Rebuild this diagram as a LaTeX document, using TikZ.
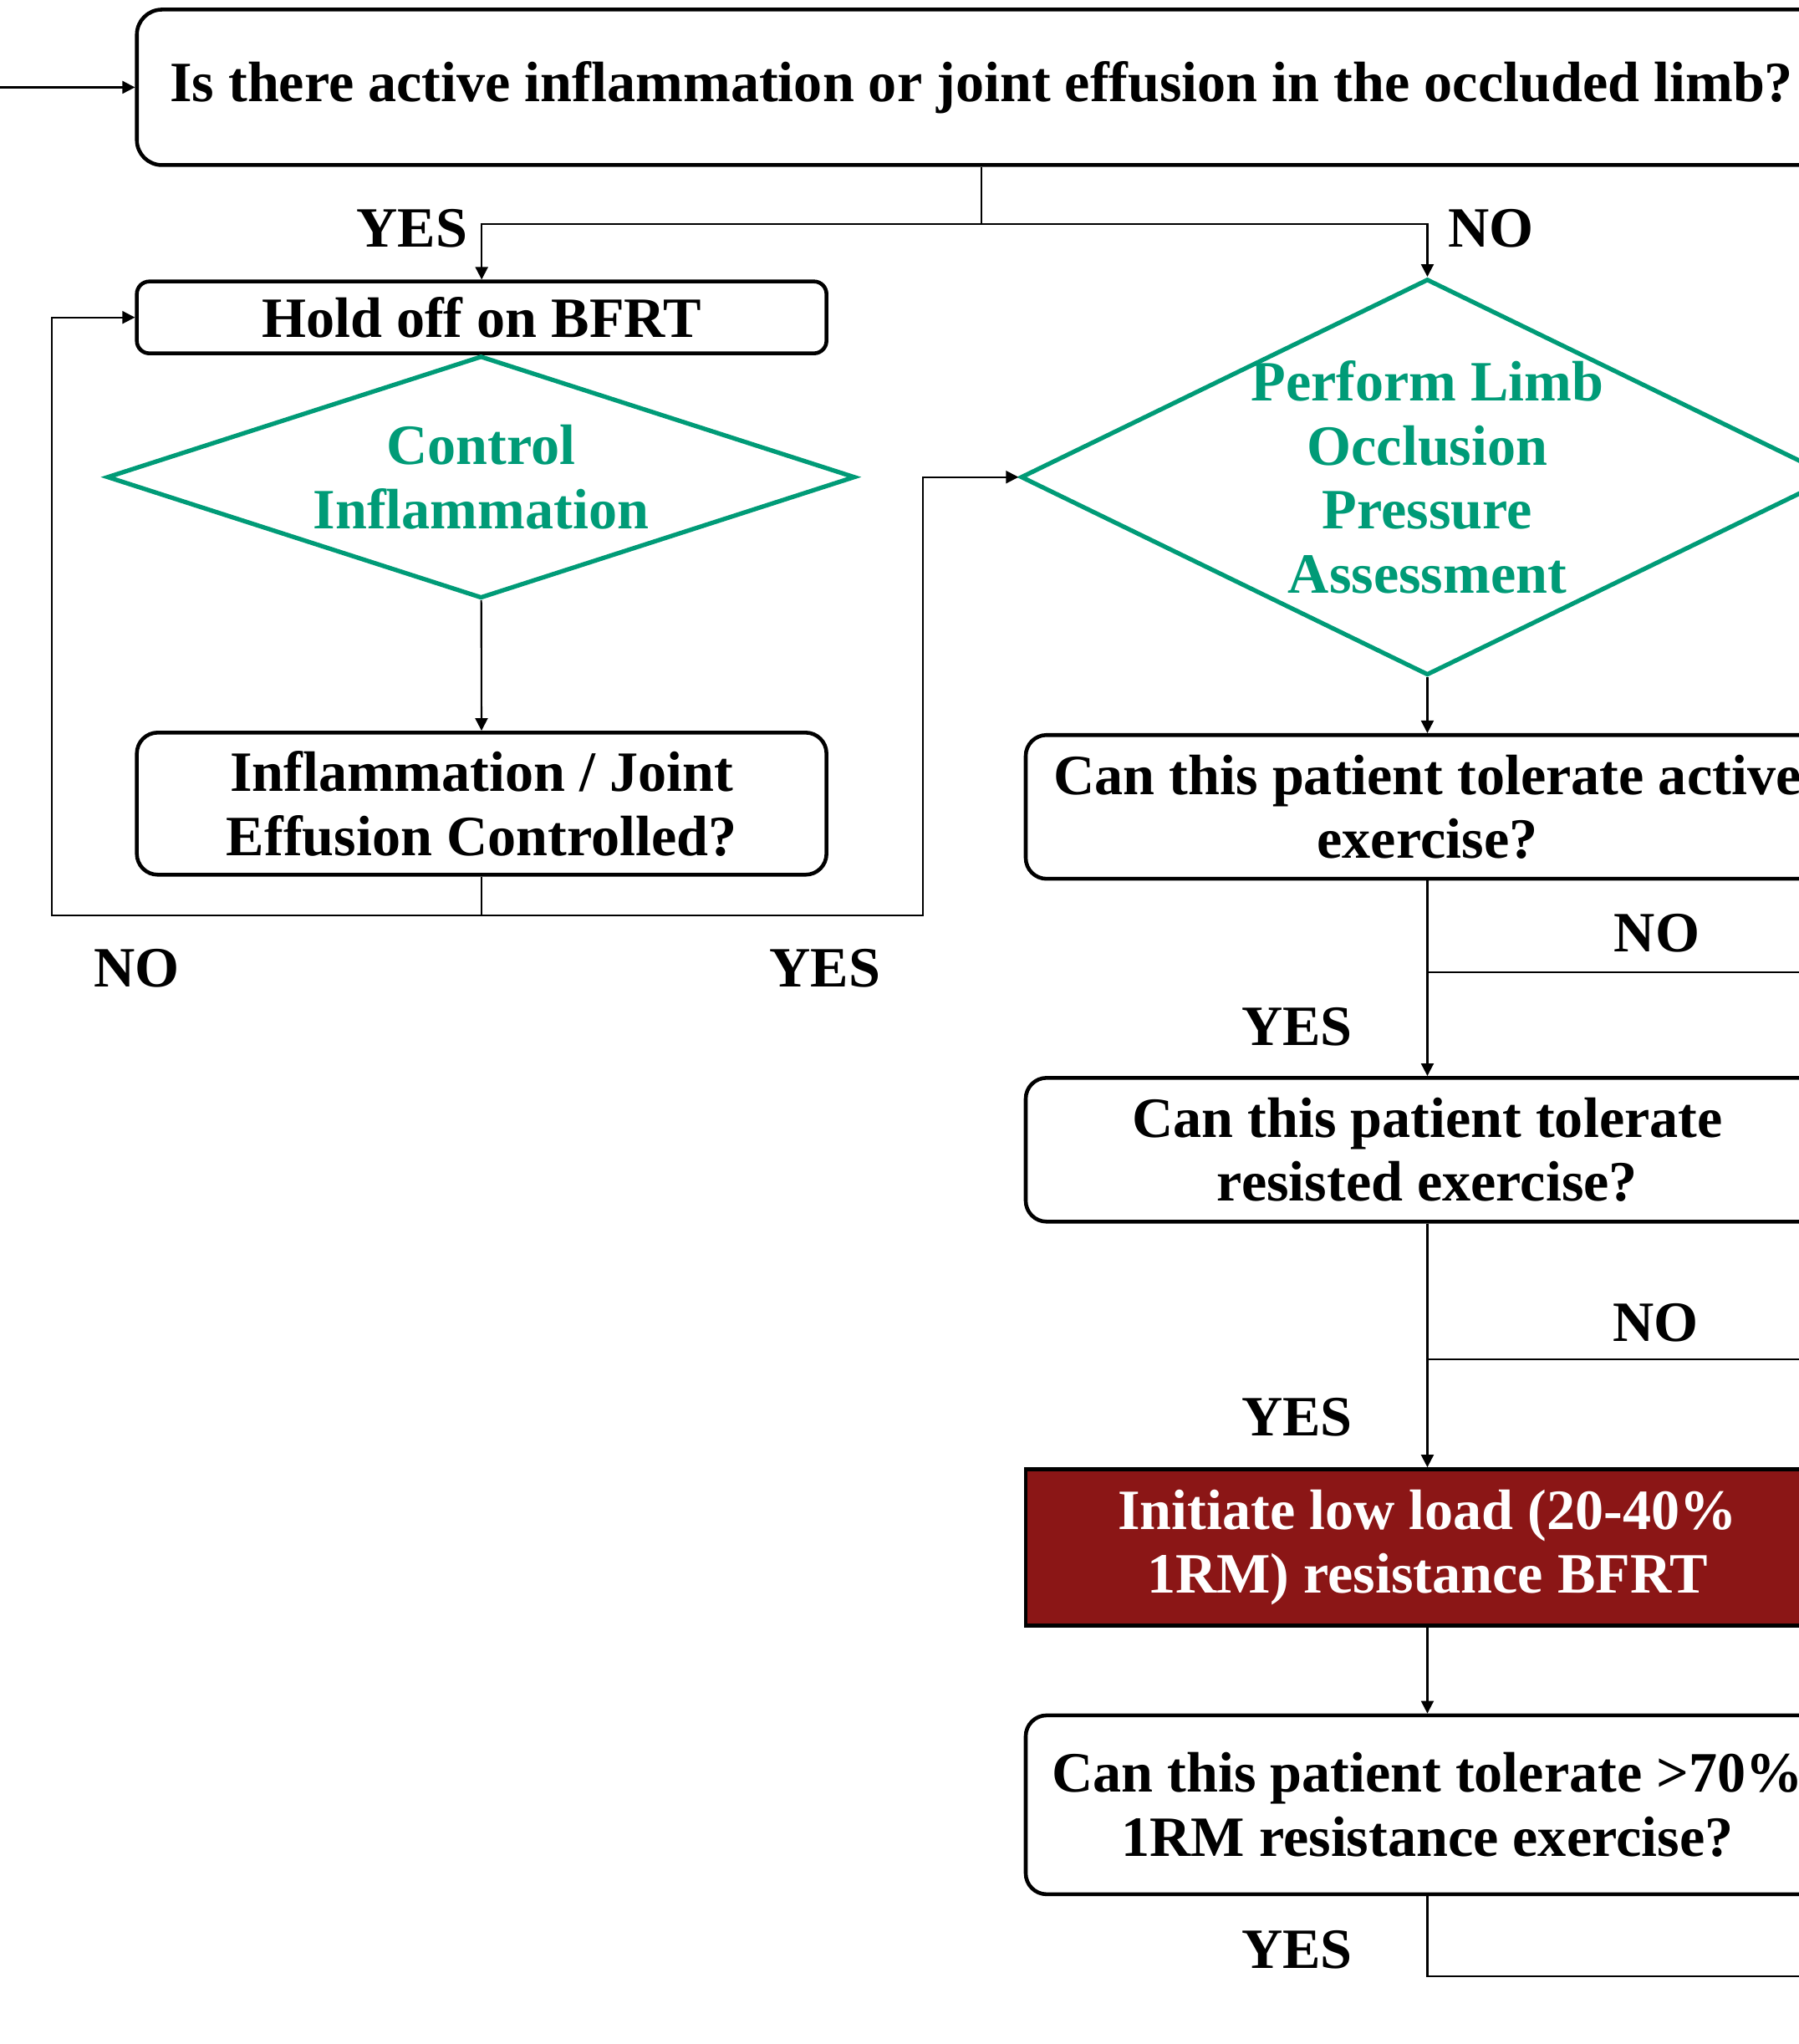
\documentclass[tikz,border=0pt]{standalone}
\usepackage{fontspec}
\setmainfont{Liberation Serif}
\usetikzlibrary{shapes.geometric,arrows.meta}
\definecolor{lopgreen}{RGB}{0,155,119}
\definecolor{bfrtred}{RGB}{139,22,22}

\begin{document}
\begin{tikzpicture}
  [x=0.15594mm,y=-0.15594mm,
   every node/.style={font=\bfseries\fontsize{19.4}{21.8}\selectfont,align=center},
   box/.style={draw,line width=1.3pt,rounded corners=0.25cm,inner ysep=2pt,minimum width=9.61cm},
   decision/.style={diamond,draw=lopgreen,line width=1.5pt,inner sep=0pt},
   greentxt/.style={text=lopgreen},
   arr/.style={line width=0.6pt,-{Triangle[length=1.5mm,width=1.5mm]}},
   conn/.style={line width=0.6pt}]
  \useasboundingbox (0,0) rectangle (1380,1568);
  \clip (0,0) rectangle (1380,1568);

  % left column
  \node[box,rounded corners=0.3cm,minimum width=20.21cm,minimum height=1.86cm] (q1) at (753,67)
    {Is there active inflammation or joint effusion in the occluded limb?};
  \node[box,rounded corners=0.15cm,minimum width=8.25cm,minimum height=0.86cm] (hold) at (369.5,243.5) {Hold off on BFRT};
  \node[decision,minimum width=8.95cm,minimum height=2.9cm,
    label={[greentxt]center:Control\\Inflammation}] (ctrl) at (369,366) {};
  \node[box,minimum width=8.25cm,minimum height=1.7cm] (eff) at (369.5,616.5)
    {Inflammation / Joint\\Effusion Controlled?};

  % right column
  \node[decision,minimum width=9.73cm,minimum height=4.74cm,
    label={[greentxt]center:Perform Limb\\Occlusion\\Pressure\\Assessment}] (perf) at (1095,366) {};
  \node[box,minimum height=1.72cm] (act) at (1095,619) {Can this patient tolerate active\\exercise?};
  \node[box,minimum height=1.72cm] (res) at (1095,882) {Can this patient tolerate\\resisted exercise?};
  \node[box,rounded corners=0pt,fill=bfrtred,text=white,minimum height=1.87cm] (init) at (1095,1187)
    {Initiate low load (20-40\%\\1RM) resistance BFRT};
  \node[box,minimum height=2.14cm] (tol) at (1095,1384.5) {Can this patient tolerate >70\%\\1RM resistance exercise?};

  % yes / no labels
  \node (yesA) at (316,175) {YES};
  \node (noA) at (1144,175) {NO};
  \node (noB) at (105,743) {NO};
  \node (yesB) at (633,743) {YES};
  \node (noC) at (1271,716) {NO};
  \node (yesC) at (995,788) {YES};
  \node (noD) at (1270,1015) {NO};
  \node (yesD) at (995,1087) {YES};
  \node (yesE) at (995,1496) {YES};

  \coordinate (start) at (0,67);
  \coordinate (noloop) at (40,702);
  \coordinate (yesloop) at (708,702);
  \coordinate (actno) at (1400,746);
  \coordinate (resno) at (1400,1043);
  \coordinate (tolyes) at (1400,1516);

  \draw[arr] (start) -- (q1.west);
  \draw[arr] (q1.south) -- ++(0,44) -| (hold.north);
  \draw[arr] (q1.south) -- ++(0,44) -| (perf.north);
  \draw[arr] (eff.south) |- (noloop) |- (hold.west);
  \draw[arr] (eff.south) |- (yesloop) |- (perf.west);
  \foreach \from/\to in {ctrl/eff,perf/act,act/res,res/init,init/tol}
    \draw[arr] (\from) -- (\to);
  \draw[conn] (act.south) |- (actno);
  \draw[conn] (res.south) |- (resno);
  \draw[conn] (tol.south) |- (tolyes);

\end{tikzpicture}
\end{document}
